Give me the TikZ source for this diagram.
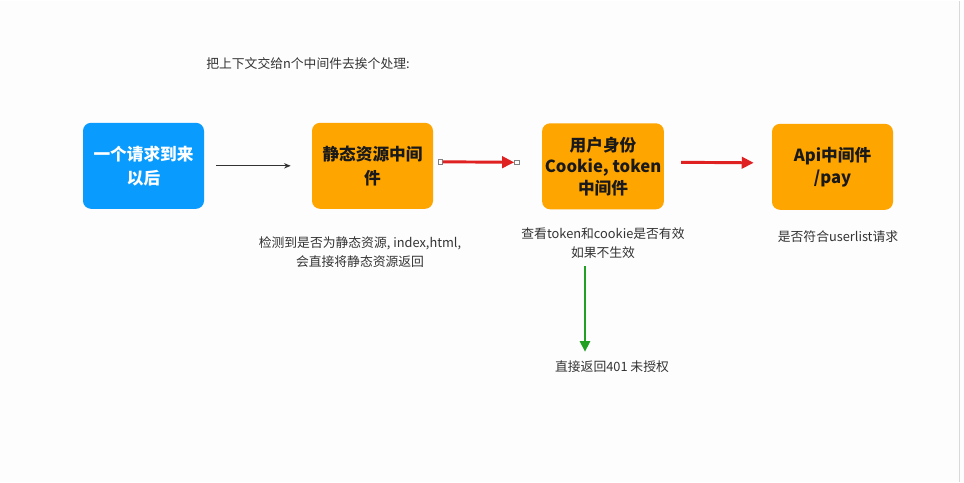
\documentclass[tikz,border=0pt]{standalone}
\usepackage{fontspec}
\setmainfont{Noto Sans CJK SC}
\usetikzlibrary{arrows.meta,positioning}

\definecolor{reqblue}{HTML}{0A9BFF}
\definecolor{mwgold}{HTML}{FFA500}
\definecolor{flowred}{HTML}{E02121}
\definecolor{denygreen}{HTML}{22A022}
\definecolor{notegray}{HTML}{333333}
\definecolor{pagebg}{HTML}{FDFDFD}

\begin{document}
\begin{tikzpicture}[
  x=0.75pt, y=-0.75pt,
  box/.style={rounded corners=6pt, minimum width=90.75pt, minimum height=64.5pt,
              align=center, inner sep=2pt,
              font=\fontsize{12.5}{18}\selectfont\bfseries},
  reqbox/.style={box, fill=reqblue, text=white},
  mwbox/.style={box, fill=mwgold, text=black!90},
  note/.style={font=\fontsize{9.6}{14}\selectfont, text=notegray, align=center,
               inner sep=0pt},
  plain/.style={draw=black!80, line width=0.7pt, -{Stealth[length=5pt,width=4pt]}},
  pass/.style={draw=flowred, line width=2.2pt, -{Triangle[length=9pt,width=8.5pt]}},
  deny/.style={draw=denygreen, line width=2pt, -{Triangle[length=8pt,width=7.5pt]}},
  handle/.style={draw=black!50, fill=white, line width=0.4pt, minimum size=3.6pt,
                 inner sep=0pt},
]

% ---------- page ----------
\fill[pagebg] (0,0) rectangle (964,481);
\draw[black!15, line width=1.2pt] (959.5,0) -- (959.5,481);

% ---------- title ----------
\node[note] (title) at (308,63) {把上下文交给n个中间件去挨个处理:};

% ---------- boxes ----------
\node[reqbox] (req)    at (143.5,165) {一个请求到来\\以后};
\node[mwbox]  (static) at (372.5,165) {静态资源中间\\件};
\node[mwbox, font=\fontsize{12.5}{16.2}\selectfont\bfseries] (auth) at (603,165.5)
  {用户身份\\Cookie, token\\中间件};
\node[mwbox, font=\fontsize{12.5}{16.5}\selectfont\bfseries] (api) at (832.5,166)
  {Api中间件\\/pay};

% ---------- notes ----------
\node[note] (staticnote) at (360,251)
  {检测到是否为静态资源, index,html,\\会直接将静态资源返回};
\node[note] (authnote) at (603,242.5)
  {查看token和cookie是否有效\\如果不生效};
\node[note] (apinote) at (838,236) {是否符合userlist请求};
\node[note] (denied) at (612,366) {直接返回401 未授权};

% ---------- flow ----------
\draw[plain] ([xshift=9pt]req.east) -- ([xshift=-15.75pt]static.west);

\node[handle] (h1) at ([shift={(7,-4)}]static.east) {};
\node[handle] (h2) at ([shift={(-25,-4)}]auth.west) {};
\draw[pass] (h1.east) -- (h2.west);

\draw[pass] ([shift={(17,-4)}]auth.east) -- ([shift={(-18,-4)}]api.west);

\coordinate (denytop) at (585,265);
\draw[deny] (denytop) -- (denytop |- 0,351);

\end{tikzpicture}
\end{document}
